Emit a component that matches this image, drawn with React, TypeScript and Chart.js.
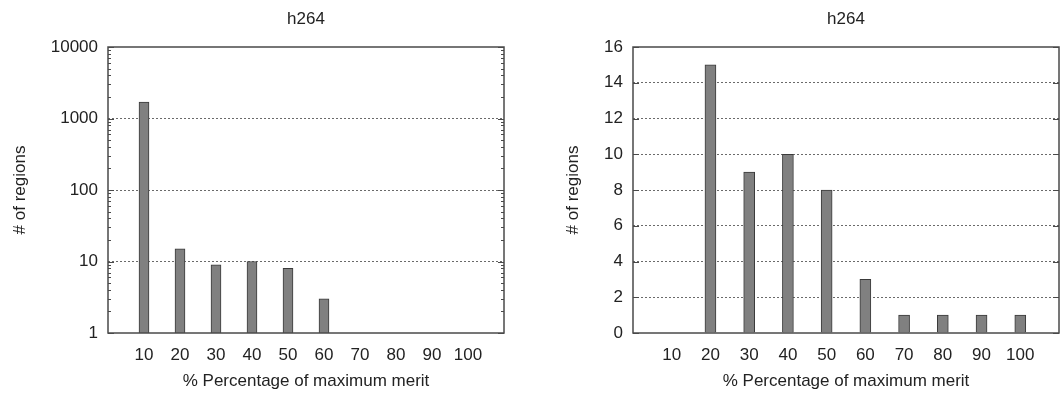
import React, { useEffect, useRef } from 'react';
import { Chart, registerables } from 'chart.js';

Chart.register(...registerables);

// ---- data ----
const categories = [10, 20, 30, 40, 50, 60, 70, 80, 90, 100];
const logCounts = [1700, 15, 9, 10, 8, 3, 1, 1, 1, 1];
const linearCounts = [0, 15, 9, 10, 8, 3, 1, 1, 1, 1];
const logYTicks = [1, 10, 100, 1000, 10000];
const linYTicks = [0, 2, 4, 6, 8, 10, 12, 14, 16];
const xRange = [0, 110];
const chartTitle = 'h264';
const xTitle = '% Percentage of maximum merit';
const yTitle = '# of regions';

const FONT = "'Liberation Sans', Arial, Helvetica, sans-serif";
const FS = 17;
const TEXT = '#222';

const framePlugin = {
  id: 'frameTicks',
  afterDraw(chart: any) {
    const { ctx, chartArea } = chart;
    const { left, right, top, bottom } = chartArea;
    const y = chart.scales.y;
    ctx.save();
    ctx.strokeStyle = '#4a4a4a';
    ctx.lineWidth = 1;
    const tick = (val: number, len: number) => {
      const py = Math.round(y.getPixelForValue(val)) + 0.5;
      ctx.beginPath();
      ctx.moveTo(left, py);
      ctx.lineTo(left + len, py);
      ctx.moveTo(right, py);
      ctx.lineTo(right - len, py);
      ctx.stroke();
    };
    y.ticks.forEach((t: any) => tick(t.value, 6));
    if (y.type === 'logarithmic') {
      y.ticks.forEach((t: any) => {
        for (let k = 2; k <= 9; k++) {
          const v = t.value * k;
          if (v < y.max) tick(v, 3);
        }
      });
    }
    ctx.lineWidth = 1.5;
    ctx.strokeStyle = '#4a4a4a';
    ctx.strokeRect(left, top, right - left, bottom - top);
    ctx.restore();
  },
};

function makeConfig(opts: {
  values: number[];
  log: boolean;
  yTicks: number[];
  yWidth: number;
  rightPad: number;
  yTitlePad: number;
  barThickness: number;
}) {
  const data = categories.map((c, i) => ({ x: c, y: opts.values[i] }));
  const yMin = opts.yTicks[0];
  const yMax = opts.yTicks[opts.yTicks.length - 1];
  return {
    type: 'bar' as const,
    data: {
      datasets: [
        {
          data,
          backgroundColor: '#808080',
          borderColor: '#3a3a3a',
          borderWidth: { top: 1, left: 1, right: 1, bottom: 0 },
          barThickness: opts.barThickness,
        },
      ],
    },
    options: {
      responsive: false,
      animation: false as const,
      layout: { padding: { left: 0, right: opts.rightPad, top: 0, bottom: 0 } },
      plugins: {
        legend: { display: false },
        tooltip: { enabled: false },
        title: {
          display: true,
          fullSize: false,
          text: chartTitle,
          color: TEXT,
          font: { family: FONT, size: FS, weight: 'normal' as const },
          padding: { top: 9, bottom: 17.6 },
        },
      },
      scales: {
        x: {
          type: 'linear' as const,
          min: xRange[0],
          max: xRange[1],
          offset: false,
          grid: { display: false, drawTicks: false, offset: false },
          border: { display: false },
          afterBuildTicks: (s: any) => {
            s.ticks = categories.map((v) => ({ value: v }));
          },
          afterFit: (s: any) => {
            s.height = 64;
          },
          ticks: {
            color: TEXT,
            font: { family: FONT, size: FS },
            padding: 12,
            maxRotation: 0,
            autoSkip: false,
            callback: (v: any) => String(v),
          },
          title: {
            display: true,
            text: xTitle,
            color: TEXT,
            font: { family: FONT, size: FS },
            padding: { top: 0, bottom: 5 },
          },
        },
        y: {
          type: (opts.log ? 'logarithmic' : 'linear') as any,
          min: yMin,
          max: yMax,
          afterBuildTicks: (s: any) => {
            s.ticks = opts.yTicks.map((v) => ({ value: v }));
          },
          afterFit: (s: any) => {
            s.width = opts.yWidth;
          },
          grid: {
            drawTicks: false,
            color: (ctx: any) => {
              const v = ctx.tick ? ctx.tick.value : null;
              return v === yMin || v === yMax ? 'rgba(0,0,0,0)' : '#6a6a6a';
            },
            lineWidth: 1,
          },
          border: { display: false, dash: [2, 2] },
          ticks: {
            color: TEXT,
            font: { family: FONT, size: FS },
            padding: 10,
            autoSkip: false,
            callback: (v: any) => String(v),
          },
          title: {
            display: true,
            text: yTitle,
            color: TEXT,
            font: { family: FONT, size: FS },
            padding: { top: opts.yTitlePad, bottom: 0 },
          },
        },
      },
    },
    plugins: [framePlugin],
  };
}

function BarPanel(props: { config: any; left: number; width: number }) {
  const ref = useRef<HTMLCanvasElement | null>(null);
  useEffect(() => {
    if (!ref.current) return;
    const chart = new Chart(ref.current, props.config);
    return () => chart.destroy();
  }, []);
  return (
    <canvas
      ref={ref}
      width={props.width}
      height={397}
      style={{ position: 'absolute', left: props.left, top: 0, width: props.width, height: 397 }}
    />
  );
}

export default function App() {
  const leftCfg = makeConfig({
    values: logCounts,
    log: true,
    yTicks: logYTicks,
    yWidth: 108,
    rightPad: 26,
    yTitlePad: 10.5,
    barThickness: 10,
  });
  const rightCfg = makeConfig({
    values: linearCounts,
    log: false,
    yTicks: linYTicks,
    yWidth: 103,
    rightPad: 2,
    yTitlePad: 33,
    barThickness: 11,
  });
  return (
    <div style={{ position: 'absolute', left: 0, top: 0, width: 1061, height: 397, background: '#fff' }}>
      <BarPanel config={leftCfg} left={0} width={530} />
      <BarPanel config={rightCfg} left={530} width={531} />
    </div>
  );
}
